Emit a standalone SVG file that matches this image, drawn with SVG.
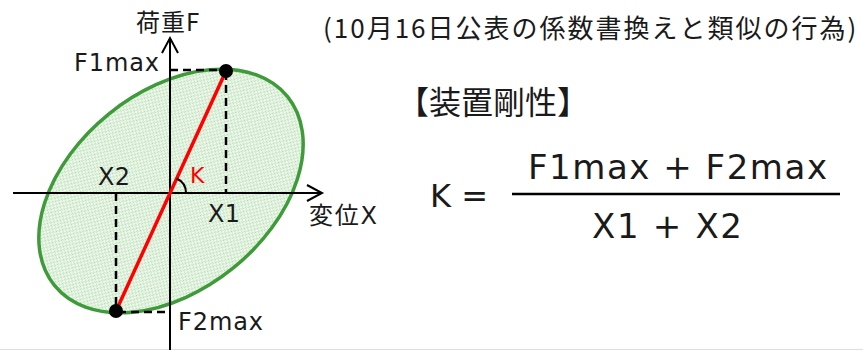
<svg xmlns="http://www.w3.org/2000/svg" width="863" height="350" viewBox="0 0 863 350">
<style>
.t{font-family:"DejaVu Sans","Noto Sans CJK JP",sans-serif;fill:#1a1a1a}
.j{font-family:"Noto Sans CJK JP",sans-serif;fill:#1a1a1a}
.ax{stroke:#000;stroke-width:2;fill:none}
.dash{stroke:#000;stroke-width:2.5;stroke-dasharray:8 5;fill:none}
</style>
<defs>
<pattern id="dots" width="2" height="2" patternUnits="userSpaceOnUse">
<rect width="2" height="2" fill="#ffffff"/>
<rect width="1" height="1" fill="#a9d9a3"/>
<rect x="1" y="1" width="1" height="1" fill="#cfe9cb"/>
</pattern>
</defs>
<rect width="863" height="350" fill="#ffffff"/>
<line x1="0" y1="349.5" x2="863" y2="349.5" stroke="#ecd6ec" stroke-width="1"/>
<g id="loop">
<ellipse cx="171" cy="191" rx="150" ry="99" transform="rotate(-39 171 191)" fill="url(#dots)" stroke="#3f9b3a" stroke-width="3.5"/>
</g>
<g id="connectors">
<line class="ax" x1="170" y1="350" x2="170" y2="38"/>
<polyline class="ax" points="162,53 170,38 178,53"/>
<line class="ax" x1="13" y1="193" x2="322" y2="193"/>
<polyline class="ax" points="307,185 322,193 307,201"/>
<line class="dash" x1="170" y1="70" x2="226" y2="70"/>
<line class="dash" x1="226" y1="72" x2="226" y2="193"/>
<line class="dash" x1="116" y1="193" x2="116" y2="311"/>
<line class="dash" x1="118" y1="312" x2="170" y2="312"/>
<line x1="226" y1="71" x2="116" y2="311" stroke="#ff0000" stroke-width="3.5"/>
<path d="M176.7,178.5 A16,16 0 0 1 186,193" class="ax" stroke-width="1.5"/>
</g>
<g id="points">
<circle cx="226" cy="71" r="7" fill="#000"/>
<circle cx="116" cy="311" r="7" fill="#000"/>
</g>
<g id="labels">
<text class="j" x="136" y="31" font-size="24" letter-spacing="1">荷重F</text>
<text class="t" x="74" y="71" font-size="24" textLength="85">F1max</text>
<text class="t" x="178" y="330" font-size="24" textLength="85">F2max</text>
<text class="t" x="208" y="222" font-size="24" textLength="32">X1</text>
<text class="t" x="98" y="185" font-size="24" textLength="32">X2</text>
<text class="t" x="309" y="224" font-size="24" textLength="68">変位X</text>
<text x="190" y="183" font-size="22" font-family="DejaVu Sans,sans-serif" fill="#ff0000">K</text>
</g>
<g id="title">
<text class="j" x="323" y="38" font-size="26" letter-spacing="2">(10月16日公表の係数書換えと類似の行為)</text>
<text class="j" x="397" y="114" font-size="32">【装置剛性】</text>
</g>
<g id="formula">
<text class="t" x="430" y="207" font-size="32">K =</text>
<text class="t" x="528" y="179" font-size="34" textLength="299">F1max + F2max</text>
<line x1="512" y1="194" x2="840" y2="194" stroke="#000" stroke-width="2.5"/>
<text class="t" x="592" y="238" font-size="34" textLength="150">X1 + X2</text>
</g>
</svg>
